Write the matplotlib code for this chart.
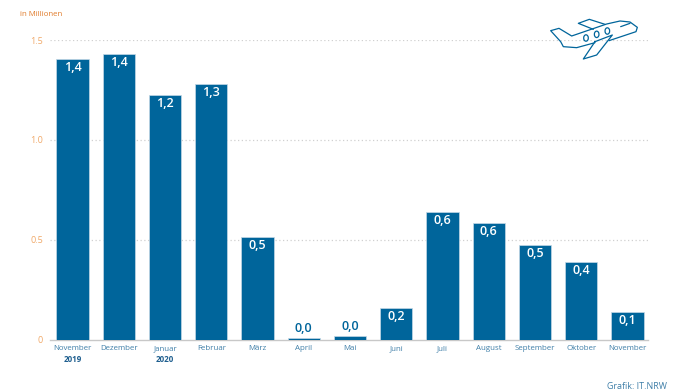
import matplotlib
matplotlib.use("Agg")
import matplotlib.pyplot as plt
from matplotlib.patches import Ellipse
from matplotlib.path import Path
from matplotlib.patches import PathPatch

months = ["November", "Dezember", "Januar", "Februar", "März", "April", "Mai", "Juni",
          "Juli", "August", "September", "Oktober", "November"]
values = [1.405, 1.43, 1.225, 1.28, 0.515, 0.01, 0.02, 0.16, 0.64, 0.585, 0.475, 0.39, 0.14]
labels = ["1,4", "1,4", "1,2", "1,3", "0,5", "0,0", "0,0", "0,2", "0,6", "0,6", "0,5", "0,4", "0,1"]
y_ticks = [0, 0.5, 1.0, 1.5]
y_tick_labels = ["0", "0.5", "1.0", "1.5"]
years = {0: "2019", 2: "2020"}

W, H = 698, 391
BLUE = "#00659b"
ORANGE = "#f0a868"
plt.rcParams["font.family"] = ["Open Sans", "DejaVu Sans"]

fig = plt.figure(figsize=(W / 100, H / 100), dpi=100, facecolor="white")
ax = fig.add_axes([50 / W, 1 - 339.5 / H, 598 / W, 299.5 / H])
ax.set_xlim((50 - 72.5) / 46.25, (648 - 72.5) / 46.25)
ax.set_ylim(0, 1.5)

ax.bar(range(len(values)), values, width=0.695, color=BLUE, edgecolor="#c4d8e6",
       linewidth=0.5, zorder=3)

for s in ["top", "right", "left"]:
    ax.spines[s].set_visible(False)
ax.spines["bottom"].set_color("#c8c8c8")
ax.spines["bottom"].set_linewidth(1.0)

ax.set_yticks(y_ticks)
ax.set_yticklabels(y_tick_labels, color=ORANGE, fontsize=6.5)
ax.tick_params(axis="y", length=0, pad=5)
ax.set_xticks(range(len(months)))
ax.set_xticklabels(months, color="#3f7fa8", fontsize=5.7)
ax.tick_params(axis="x", length=0, pad=4)
for y in y_ticks[1:]:
    ax.axhline(y, color="#d0d0d0", lw=0.9, ls=(0, (1, 2)), zorder=1)

for i, (v, t) in enumerate(zip(values, labels)):
    if v > 0.1:
        ax.annotate(t, (i, v), xytext=(0, -1.5), textcoords="offset points", ha="center", va="top",
                    color="white", fontsize=9, fontweight=600, zorder=4)
    else:
        ax.annotate(t, (i, v), xytext=(0, 1.5), textcoords="offset points", ha="center", va="bottom",
                    color=BLUE, fontsize=9, fontweight=600, zorder=4)

for i, y in years.items():
    ax.annotate(y, (i, 0), xytext=(0, -11.5), textcoords="offset points", ha="center", va="top",
                color="#1f5f8f", fontsize=5.8, fontweight="bold")

fig.text(20 / W, 1 - 14.5 / H, "in Millionen", color="#e07b2a", fontsize=5.7, va="center", ha="left")
fig.text(667 / W, 1 - 386.5 / H, "Grafik: IT.NRW", color="#3f7fa8", fontsize=6.4, va="center", ha="right")

# decorative aeroplane icon, in reference-pixel coordinates of a 3x crop
def pt(zx, zy):
    return ((530 + zx / 3) / W, 1 - (zy / 3) / H)

outlines = [
    [(195, 128), (140, 143), (100, 140), (92, 125), (62, 92), (87, 85), (125, 108), (230, 72),
     (270, 63), (300, 66), (322, 82), (318, 95), (237, 122)],
    [(195, 125), (247, 105), (200, 165), (160, 177), (195, 125)],
    [(225, 73), (178, 58), (145, 70), (190, 88)],
    [(272, 80), (300, 70)],
]
for line in outlines:
    path = Path([pt(*p) for p in line])
    fig.add_artist(PathPatch(path, fc="none", ec=BLUE, lw=0.9, transform=fig.transFigure,
                             joinstyle="round", capstyle="round"))
for c in [(168, 114), (200, 103), (232, 93)]:
    fig.add_artist(Ellipse(pt(*c), 4.6 / W, 6.4 / H, angle=0, fc="none", ec=BLUE, lw=0.9,
                           transform=fig.transFigure))

fig.savefig("out.png", dpi=100, facecolor="white")
